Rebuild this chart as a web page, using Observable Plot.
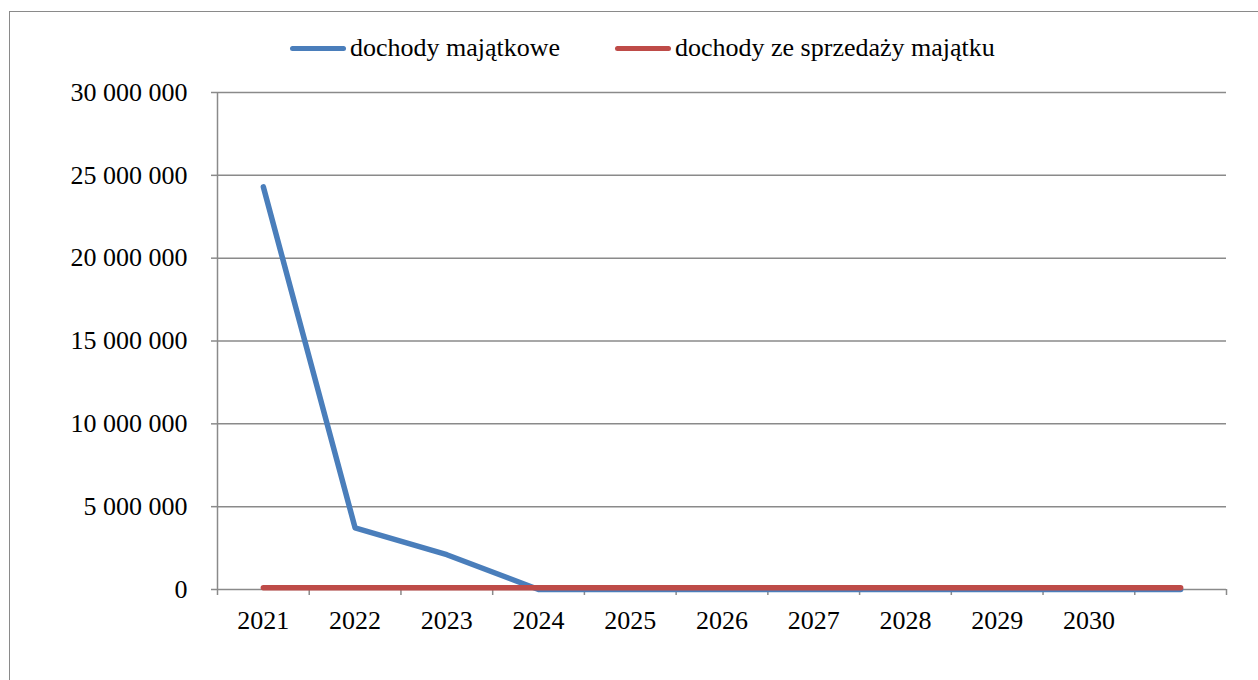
<!DOCTYPE html>
<html>
<head>
<meta charset="utf-8">
<script src="https://cdn.jsdelivr.net/npm/d3@7"></script>
<script src="https://cdn.jsdelivr.net/npm/@observablehq/plot@0.6"></script>
<style>
  html, body { margin: 0; padding: 0; background: #fff; overflow: hidden; }
  #frame { position: absolute; left: 9px; top: 11px; width: 1400px; height: 800px; border: 1.5px solid #8a8a8a; box-sizing: border-box; }
  #wrap { position: relative; width: 1258px; }
  #legend { height: 70px; position: relative; font-family: "Liberation Serif", "Times New Roman", serif; font-size: 26px; color: #000; }
  .item { position: absolute; top: 33px; display: flex; align-items: center; }
  .sw { width: 56px; height: 5px; border-radius: 3px; margin-right: 4px; }
  svg { display: block; }
</style>
</head>
<body>
<div id="frame"></div>
<div id="wrap">
  <div id="legend"></div>
  <div id="chart"></div>
</div>
<script>
const years = [2021, 2022, 2023, 2024, 2025, 2026, 2027, 2028, 2029, 2030, 2031];
const yearLabels = ["2021", "2022", "2023", "2024", "2025", "2026", "2027", "2028", "2029", "2030", ""];
const dochodyMajatkowe = [24300000, 3720000, 2100000, 0, 0, 0, 0, 0, 0, 0, 0];
const dochodySprzedaz = [100000, 100000, 100000, 100000, 100000, 100000, 100000, 100000, 100000, 100000, 100000];
const yTicks = [0, 5000000, 10000000, 15000000, 20000000, 25000000, 30000000];
const seriesNames = ["dochody majątkowe", "dochody ze sprzedaży majątku"];
const seriesColors = ["#4a7ebb", "#be4b48"];

const boundaries = years.map(y => y - 0.5).concat([years[years.length - 1] + 0.5]);
const rows = [];
years.forEach((yr, i) => {
  rows.push({year: yr, value: dochodyMajatkowe[i], series: seriesNames[0]});
});
years.forEach((yr, i) => {
  rows.push({year: yr, value: dochodySprzedaz[i], series: seriesNames[1]});
});

const fmt = v => d3.format(",")(v).replace(/,/g, "\u00a0");
const labelOf = v => { const i = years.indexOf(v); return i >= 0 ? yearLabels[i] : ""; };

const chart = Plot.plot({
  width: 1258,
  height: 610,
  marginLeft: 217,
  marginRight: 32,
  marginTop: 22,
  marginBottom: 91,
  style: {fontFamily: "'Liberation Serif', 'Times New Roman', serif", fontSize: "26px", color: "#000", background: "transparent"},
  x: {type: "linear", domain: [boundaries[0], boundaries[boundaries.length - 1]]},
  y: {domain: [0, 30000000]},
  color: {domain: seriesNames, range: seriesColors},
  marks: [
    Plot.ruleY(yTicks, {stroke: "#8a8a8a", strokeWidth: 1.5, strokeOpacity: 1}),
    Plot.ruleX([boundaries[0]], {stroke: "#8a8a8a", strokeWidth: 1.5, y1: 0, y2: 30000000}),
    Plot.axisY(yTicks, {tickSize: 6, tickPadding: 24, tickFormat: fmt, stroke: "#8a8a8a", strokeWidth: 1.5, strokeOpacity: 1, fill: "#000", fontSize: 26, label: null}),
    Plot.axisX(boundaries, {tickSize: 6, tickFormat: () => "", stroke: "#8a8a8a", strokeWidth: 1.5, strokeOpacity: 1, label: null}),
    Plot.axisX(years, {tickSize: 0, tickPadding: 21, tickFormat: labelOf, fill: "#000", fontSize: 26, label: null}),
    Plot.line(rows, {x: "year", y: "value", z: "series", stroke: "series", strokeWidth: 5.5, strokeLinecap: "round", strokeLinejoin: "round"})
  ]
});
document.getElementById("chart").appendChild(chart);

const legend = document.getElementById("legend");
const positions = [290, 615];
seriesNames.forEach((name, i) => {
  const item = document.createElement("div");
  item.className = "item";
  item.style.left = positions[i] + "px";
  const sw = document.createElement("div");
  sw.className = "sw";
  sw.style.background = seriesColors[i];
  const t = document.createElement("span");
  t.textContent = name;
  item.appendChild(sw);
  item.appendChild(t);
  legend.appendChild(item);
});
</script>
</body>
</html>
